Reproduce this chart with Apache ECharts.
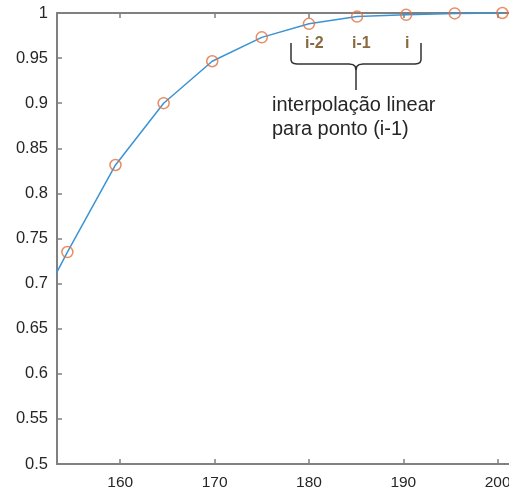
<!DOCTYPE html>
<html>
<head>
<meta charset="utf-8">
<script src="https://cdn.jsdelivr.net/npm/echarts@6/dist/echarts.min.js"></script>
<style>
  html, body { margin: 0; padding: 0; background: #fff; overflow: hidden; }
  #chart { width: 509px; height: 495px; }
</style>
</head>
<body>
<div id="chart"></div>
<script>
// pontos medidos (marcadores)
var xPts = [154.4, 159.5, 164.6, 169.75, 175.0, 180.0, 185.1, 190.3, 195.45, 200.5];
var yPts = [0.735, 0.8315, 0.900, 0.9465, 0.973, 0.988, 0.996, 0.998, 0.9995, 1.0];
// a linha continua para a esquerda (ponto anterior fora da janela)
var xPrev = 149.3;
var yPrev = 0.633;
var xTicks = [160, 170, 180, 190, 200];
var yTicks = [0.5, 0.55, 0.6, 0.65, 0.7, 0.75, 0.8, 0.85, 0.9, 0.95, 1];
var braceLabels = ['i-2', 'i-1', 'i'];

var chart = echarts.init(document.getElementById('chart'));

var lineData = [[xPrev, yPrev]];
var markerData = [];
for (var k = 0; k < xPts.length; k++) {
  lineData.push([xPts[k], yPts[k]]);
  markerData.push([xPts[k], yPts[k]]);
}

var axisCol = '#808080';
var fontFam = 'Liberation Sans, Arial, sans-serif';
var braceStyle = { fill: null, stroke: '#333', lineWidth: 1.5 };
var braceFont = 'bold 16px ' + fontFam;

var option = {
  animation: false,
  grid: { left: 57, right: 0, top: 13, bottom: 31, containLabel: false, outerBoundsMode: 'none' },
  xAxis: [{
    type: 'value',
    min: 153.3,
    max: 201.2,
    position: 'bottom',
    axisLine: { show: true, onZero: false, lineStyle: { color: axisCol, width: 2 } },
    axisTick: { show: true, inside: true, length: 5, customValues: xTicks, lineStyle: { color: axisCol, width: 1.5 } },
    axisLabel: { margin: 11, customValues: xTicks, color: '#262626', fontSize: 15.5, fontFamily: fontFam },
    splitLine: { show: false }
  }, {
    type: 'value',
    min: 153.3,
    max: 201.2,
    position: 'top',
    axisLine: { show: true, onZero: false, lineStyle: { color: axisCol, width: 2 } },
    axisTick: { show: true, inside: true, length: 5, customValues: xTicks, lineStyle: { color: axisCol, width: 1.5 } },
    axisLabel: { show: false },
    splitLine: { show: false }
  }],
  yAxis: [{
    type: 'value',
    min: 0.5,
    max: 1,
    axisLine: { show: true, onZero: false, lineStyle: { color: axisCol, width: 2 } },
    axisTick: { show: true, inside: true, length: 5, customValues: yTicks, lineStyle: { color: axisCol, width: 1.5 } },
    axisLabel: {
      margin: 9, customValues: yTicks, color: '#262626', fontSize: 16.5, fontFamily: fontFam,
      formatter: function(v) { return String(+v.toFixed(2)); }
    },
    splitLine: { show: false }
  }],
  series: [{
    type: 'line',
    data: lineData,
    showSymbol: false,
    clip: true,
    lineStyle: { color: '#3a94d4', width: 1.5 },
    z: 2
  }, {
    type: 'scatter',
    data: markerData,
    symbol: 'circle',
    symbolSize: 11,
    clip: false,
    itemStyle: { color: 'rgba(0,0,0,0)', borderColor: '#e2703f', borderWidth: 1.5 },
    z: 3
  }],
  graphic: [{
    type: 'polyline',
    shape: { points: [[291, 43], [291, 60], [292, 62.5], [294, 63.6], [297, 64], [349, 64], [353, 64.6], [355.2, 66.5], [356, 70], [356, 90]] },
    style: braceStyle
  }, {
    type: 'polyline',
    shape: { points: [[356, 70], [356.8, 66.5], [359, 64.6], [363, 64], [415, 64], [418, 63.6], [420, 62.5], [421, 60], [421, 43]] },
    style: braceStyle
  }, {
    type: 'text', left: 305, top: 36,
    style: { text: braceLabels[0], fill: '#8a6a40', font: braceFont }
  }, {
    type: 'text', left: 352, top: 36,
    style: { text: braceLabels[1], fill: '#8a6a40', font: braceFont }
  }, {
    type: 'text', left: 405, top: 36,
    style: { text: braceLabels[2], fill: '#8a6a40', font: braceFont }
  }, {
    type: 'text', left: 272, top: 93,
    style: { text: 'interpolação linear\npara ponto (i-1)', fill: '#262626', font: '20px ' + fontFam, lineHeight: 24 }
  }]
};
chart.setOption(option);
</script>
</body>
</html>
